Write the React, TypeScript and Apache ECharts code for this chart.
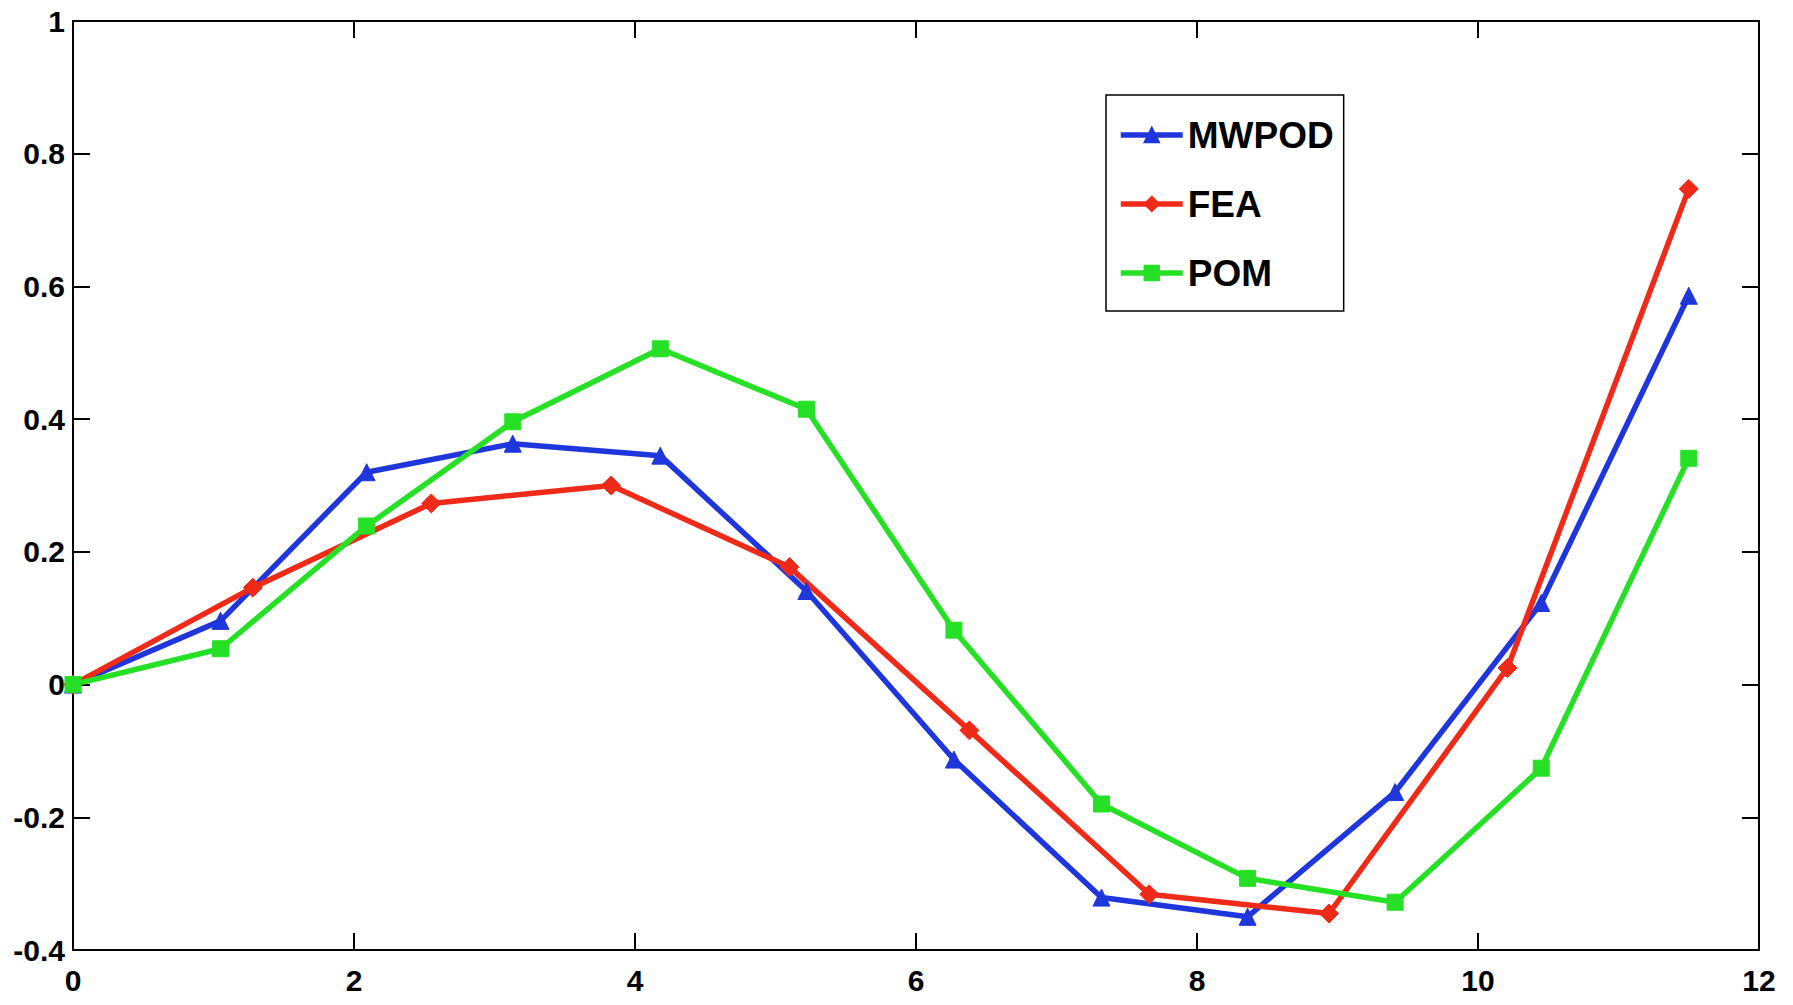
import React, { useEffect, useRef } from "react";
import * as echarts from "echarts";

const xTicks = [0, 2, 4, 6, 8, 10, 12];
const mwpodX = [0, 1.05, 2.09, 3.13, 4.18, 5.22, 6.27, 7.32, 8.36, 9.41, 10.45, 11.5];
const mwpodY = [0, 0.096, 0.32, 0.363, 0.345, 0.141, -0.113, -0.321, -0.35, -0.162, 0.123, 0.586];
const feaX = [0, 1.28, 2.55, 3.83, 5.1, 6.38, 7.66, 8.94, 10.21, 11.5];
const feaY = [0, 0.146, 0.273, 0.3, 0.177, -0.069, -0.316, -0.345, 0.025, 0.747];
const pomX = [0, 1.05, 2.09, 3.13, 4.18, 5.22, 6.27, 7.32, 8.36, 9.41, 10.45, 11.5];
const pomY = [0, 0.054, 0.239, 0.396, 0.506, 0.415, 0.082, -0.18, -0.292, -0.328, -0.126, 0.341];

const BLUE = "#1e36dc";
const RED = "#f02a18";
const GREEN = "#26e026";
const FONT = "'Liberation Sans Narrow', 'Liberation Sans', Arial, sans-serif";

const zip = (xs: number[], ys: number[]) => xs.map((x, i) => [x, ys[i]]);

export default function App() {
  const ref = useRef<HTMLDivElement>(null);
  useEffect(() => {
    if (!ref.current) return;
    const chart = echarts.init(ref.current, undefined, { renderer: "svg" });
    const axisLine = { show: true, onZero: false, lineStyle: { color: "#000", width: 2 } };
    const tick = { show: true, inside: true, length: 17, lineStyle: { color: "#000", width: 2 } };
    const label = { fontFamily: FONT, fontWeight: "bold" as const, fontSize: 30, color: "#000" };
    const mk = (name: string, data: number[][], color: string, symbol: string, size: number) => ({
      name,
      type: "line",
      data,
      symbol,
      symbolSize: size,
      showSymbol: true,
      lineStyle: { color, width: 5.5 },
      itemStyle: { color, borderColor: color, borderWidth: 1 },
      z: 2,
    });
    chart.setOption({
      animation: false,
      backgroundColor: "#fff",
      grid: { left: 73, right: 34, top: 21, bottom: 55, containLabel: false },
      legend: {
        orient: "vertical",
        left: 1106,
        top: 95,
        padding: [19, 10, 17, 12],
        itemGap: 27,
        itemWidth: 62,
        itemHeight: 18,
        borderColor: "#000",
        borderWidth: 1.5,
        backgroundColor: "#fff",
        lineStyle: { width: 5.5 },
        textStyle: { fontFamily: FONT, fontWeight: "bold", fontSize: 37, color: "#000", lineHeight: 42, padding: [0, 0, 0, 0] },
        data: ["MWPOD", "FEA", "POM"],
      },
      xAxis: [
        {
          type: "value", min: xTicks[0], max: xTicks[xTicks.length - 1], interval: 2, position: "bottom",
          axisLine, axisTick: tick, splitLine: { show: false },
          axisLabel: { ...label, margin: 15 },
        },
        {
          type: "value", min: xTicks[0], max: xTicks[xTicks.length - 1], interval: 2, position: "top",
          axisLine, axisTick: tick, splitLine: { show: false }, axisLabel: { show: false },
        },
      ],
      yAxis: [
        {
          type: "value", min: -0.4, max: 1, interval: 0.2, position: "left",
          axisLine, axisTick: tick, splitLine: { show: false },
          axisLabel: { ...label, margin: 8, formatter: (v: number) => String(Math.round(v * 10) / 10) },
        },
        {
          type: "value", min: -0.4, max: 1, interval: 0.2, position: "right",
          axisLine, axisTick: tick, splitLine: { show: false }, axisLabel: { show: false },
        },
      ],
      series: [
        mk("MWPOD", zip(mwpodX, mwpodY), BLUE, "triangle", 17),
        mk("FEA", zip(feaX, feaY), RED, "diamond", 19),
        mk("POM", zip(pomX, pomY), GREEN, "rect", 16),
      ],
    });
    return () => chart.dispose();
  }, []);
  return (
    <div
      ref={ref}
      style={{ position: "fixed", left: 0, top: 0, width: 1793, height: 1005, background: "#fff" }}
    />
  );
}
